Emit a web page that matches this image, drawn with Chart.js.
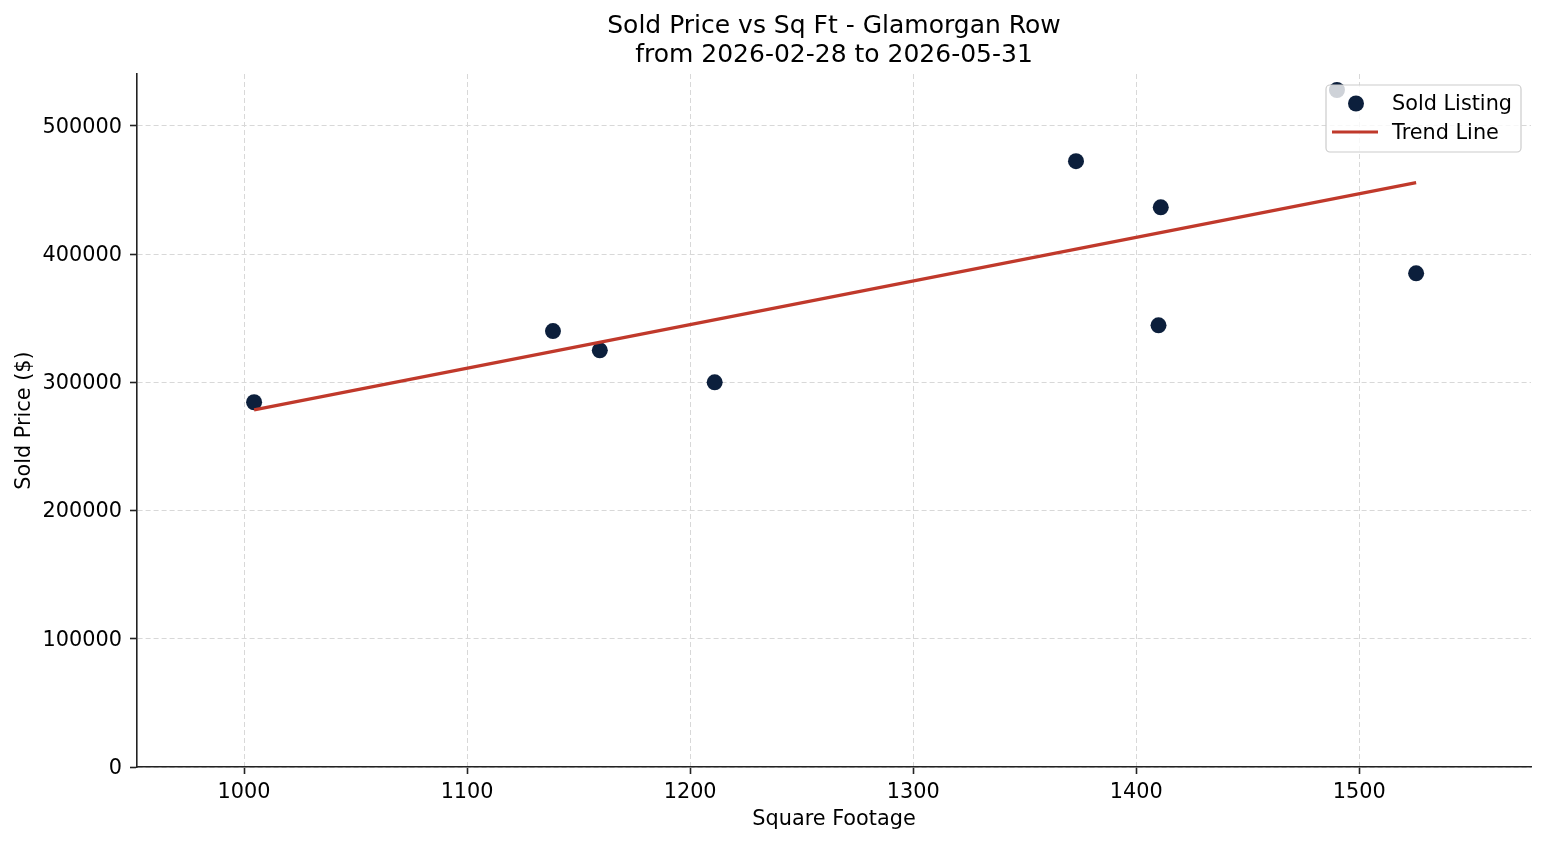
<!DOCTYPE html>
<html>
<head>
<meta charset="utf-8">
<title>Sold Price vs Sq Ft</title>
<script src="https://cdn.jsdelivr.net/npm/chart.js@4.4.0/dist/chart.umd.min.js"></script>
<style>
  html, body { margin: 0; padding: 0; background: #fff; }
  canvas { display: block; }
</style>
</head>
<body>
<canvas id="myChart" width="1547" height="845"></canvas>
<script>
// sold listings
var sqFt = [1004.5, 1138.5, 1159.5, 1211, 1373, 1410, 1411, 1490, 1525.5];
var soldPrice = [284500, 340000, 325000, 300000, 472500, 344500, 436500, 528000, 385000];

// trend line end points
var trendSqFt = [1004.5, 1525.5];
var trendPrice = [278500, 455800];

var xTicks = [1000, 1100, 1200, 1300, 1400, 1500];
var yTicks = [0, 100000, 200000, 300000, 400000, 500000];

var titleLines = ['Sold Price vs Sq Ft - Glamorgan Row', 'from 2026-02-28 to 2026-05-31'];
var legendLabels = ['Sold Listing', 'Trend Line'];

var pointColor = '#0c1f3c';
var lineColor = '#c0392b';
var fontFamily = '"DejaVu Sans", sans-serif';
var fontSize = 20.8;

var scatterPts = sqFt.map(function (x, i) { return {x: x, y: soldPrice[i]}; });
var trendPts = trendSqFt.map(function (x, i) { return {x: x, y: trendPrice[i]}; });

// title centred on the axes, legend inside the top right corner
var decorPlugin = {
    id: 'decor',
    afterDraw: function (chart) {
        var ctx = chart.ctx;
        var area = chart.chartArea;
        var cx = (area.left + area.right) / 2;

        ctx.save();
        ctx.fillStyle = '#000';
        ctx.font = '25px ' + fontFamily;
        ctx.textAlign = 'center';
        ctx.textBaseline = 'alphabetic';
        ctx.fillText(titleLines[0], cx, 33);
        ctx.fillText(titleLines[1], cx, 62);

        // legend box
        var w = 195, h = 67;
        var bx = area.right - 10 - w;
        var by = area.top + 11;
        ctx.beginPath();
        ctx.roundRect(bx, by, w, h, 4);
        ctx.fillStyle = 'rgba(255,255,255,0.8)';
        ctx.fill();
        ctx.lineWidth = 1.2;
        ctx.strokeStyle = '#cccccc';
        ctx.stroke();

        ctx.beginPath();
        ctx.arc(bx + 30, by + 18.5, 8, 0, Math.PI * 2);
        ctx.fillStyle = pointColor;
        ctx.fill();

        ctx.beginPath();
        ctx.moveTo(bx + 6, by + 47);
        ctx.lineTo(bx + 52, by + 47);
        ctx.lineWidth = 3;
        ctx.strokeStyle = lineColor;
        ctx.stroke();

        ctx.fillStyle = '#000';
        ctx.font = fontSize + 'px ' + fontFamily;
        ctx.textAlign = 'left';
        ctx.textBaseline = 'middle';
        ctx.fillText(legendLabels[0], bx + 66, by + 19.5);
        ctx.fillText(legendLabels[1], bx + 66, by + 48.5);
        ctx.restore();
    }
};

var ctx = document.getElementById('myChart').getContext('2d');

var myChart = new Chart(ctx, {
    type: 'scatter',
    data: {
        datasets: [{
            label: legendLabels[0],
            data: scatterPts,
            backgroundColor: pointColor,
            borderWidth: 0,
            pointRadius: 8,
            order: 2
        }, {
            label: legendLabels[1],
            type: 'line',
            data: trendPts,
            borderColor: lineColor,
            borderWidth: 3.2,
            pointRadius: 0,
            fill: false,
            order: 1
        }]
    },
    options: {
        responsive: false,
        animation: false,
        devicePixelRatio: 1,
        layout: { padding: { top: 74, right: 16, left: 0, bottom: 0 } },
        plugins: {
            legend: { display: false },
            title: { display: false },
            tooltip: { enabled: false }
        },
        scales: {
            x: {
                type: 'linear',
                min: 952,
                max: 1577,
                afterBuildTicks: function (scale) {
                    scale.ticks = xTicks.map(function (v) { return {value: v}; });
                },
                afterFit: function (scale) { scale.height = 78; },
                ticks: {
                    color: '#000',
                    font: { family: fontFamily, size: fontSize },
                    padding: 6,
                    maxRotation: 0,
                    callback: function (v) { return String(v); }
                },
                grid: {
                    color: '#d8d8d8',
                    lineWidth: 1,
                    tickLength: 7,
                    tickColor: '#222',
                    tickWidth: 1.6,
                    tickBorderDash: []
                },
                border: { color: '#222', width: 1.6, dash: [5, 3] },
                title: {
                    display: true,
                    text: 'Square Footage',
                    color: '#000',
                    font: { family: fontFamily, size: fontSize },
                    padding: { top: 0, bottom: 13 }
                }
            },
            y: {
                type: 'linear',
                min: 0,
                max: 540500,
                afterBuildTicks: function (scale) {
                    scale.ticks = yTicks.map(function (v) { return {value: v}; });
                },
                afterFit: function (scale) { scale.width = 137; },
                ticks: {
                    color: '#000',
                    font: { family: fontFamily, size: fontSize },
                    padding: 8,
                    labelOffset: 1.5,
                    callback: function (v) { return String(v); }
                },
                grid: {
                    color: '#d8d8d8',
                    lineWidth: 1,
                    tickLength: 7,
                    tickColor: '#222',
                    tickWidth: 1.6,
                    tickBorderDash: []
                },
                border: { color: '#222', width: 1.6, dash: [5, 3] },
                title: {
                    display: true,
                    text: 'Sold Price ($)',
                    color: '#000',
                    font: { family: fontFamily, size: fontSize },
                    padding: { top: 12, bottom: 0 }
                }
            }
        }
    },
    plugins: [decorPlugin]
});
</script>
</body>
</html>
